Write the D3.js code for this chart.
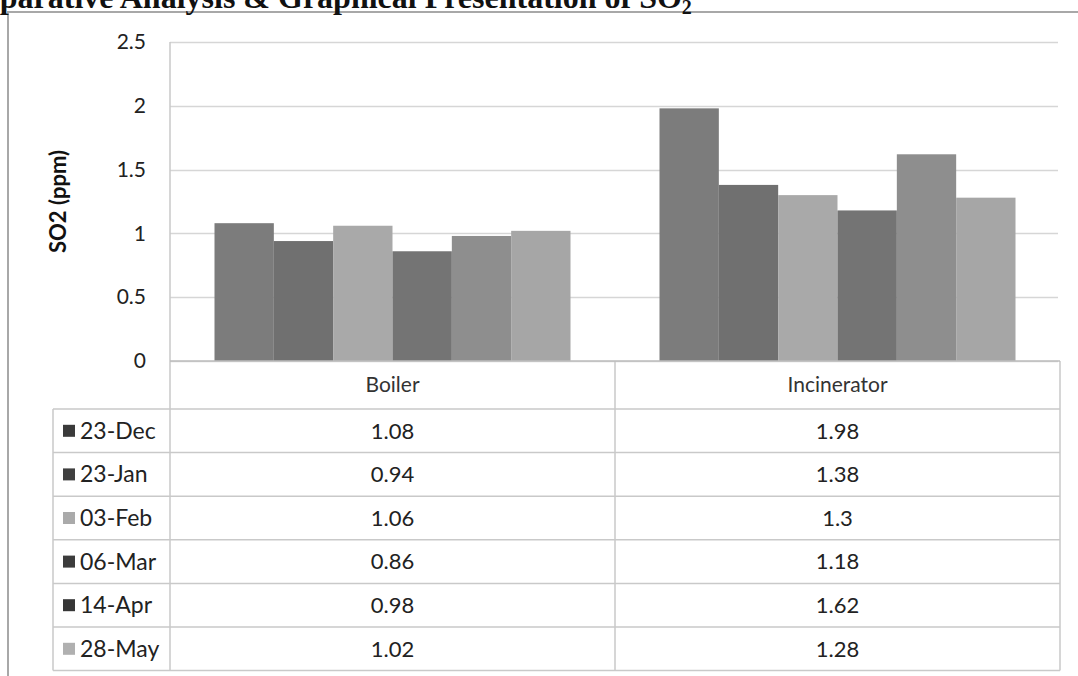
<!DOCTYPE html>
<html>
<head>
<meta charset="utf-8">
<script src="https://cdn.jsdelivr.net/npm/d3@7"></script>
<style>
  body { margin: 0; background: #fff; overflow: hidden; }
  svg { display: block; }
</style>
</head>
<body>
<svg id="chart"></svg>
<script>
var viewWidth = 1078;
var viewHeight = 676;

// data
var categories = ["Boiler", "Incinerator"];
var series = ["23-Dec", "23-Jan", "03-Feb", "06-Mar", "14-Apr", "28-May"];
var boilerValues = [1.08, 0.94, 1.06, 0.86, 0.98, 1.02];
var incineratorValues = [1.98, 1.38, 1.3, 1.18, 1.62, 1.28];
var yTicks = [0, 0.5, 1, 1.5, 2, 2.5];

var barColors = ["#7c7c7c", "#707070", "#a9a9a9", "#747474", "#8e8e8e", "#a6a6a6"];
var keyColors = ["#3a3a3a", "#3f3f3f", "#aaaaaa", "#3c3c3c", "#363636", "#b0b0b0"];

var valuesBySeries = series.map(function(s, i) {
  return { name: s, values: [boilerValues[i], incineratorValues[i]] };
});

var plot = {left: 170, right: 1060, top: 42, bottom: 361};
var headerH = 48;
var rowH = 43.6;
var legendLeft = 53;
var font = "Lato, 'Open Sans', sans-serif";

var svg = d3.select("#chart")
    .attr("width", viewWidth)
    .attr("height", viewHeight);

// outer frame (only top and left visible in the scan)
svg.append("path")
    .attr("d", "M8," + viewHeight + "V12H" + viewWidth)
    .attr("fill", "none")
    .attr("stroke", "#a8a8a8")
    .attr("stroke-width", 2);

// title, cut off at the top-left like the scan
var title = svg.append("text")
    .attr("x", -66)
    .attr("y", 8)
    .style("font-family", "'Liberation Serif', 'Times New Roman', serif")
    .style("font-weight", "bold")
    .style("font-size", "32px")
    .attr("fill", "#111");
title.append("tspan").text("Comparative Analysis & Graphical Presentation of SO");
title.append("tspan").attr("dy", 6).style("font-size", "20px").text("2");

var x0 = d3.scaleBand()
  .domain(categories)
  .range([plot.left, plot.right]);

var x1 = d3.scaleBand()
  .domain(series)
  .range([0, x0.bandwidth()])
  .paddingInner(0)
  .paddingOuter(0.75);

var y = d3.scaleLinear()
  .domain([0, 2.5])
  .range([plot.bottom, plot.top]);

// gridlines
svg.append("g")
    .attr("class", "grid")
  .selectAll("line")
  .data(yTicks)
  .enter().append("line")
    .attr("x1", plot.left)
    .attr("x2", plot.right - 2)
    .attr("y1", function(d) { return Math.round(y(d)) + 0.5; })
    .attr("y2", function(d) { return Math.round(y(d)) + 0.5; })
    .attr("stroke", "#d6d6d6")
    .attr("stroke-width", 1.5);

// y axis
var yAxis = d3.axisLeft(y)
  .tickValues(yTicks)
  .tickSize(0)
  .tickPadding(0)
  .tickFormat(function(d) { return String(d); });

var yg = svg.append("g")
    .attr("class", "y axis")
    .attr("transform", "translate(146,0)")
    .call(yAxis);
yg.attr("font-family", font).attr("font-size", 21);
yg.select(".domain").remove();
yg.selectAll("text").attr("fill", "#222");

svg.append("text")
    .attr("transform", "translate(58," + ((plot.top + plot.bottom) / 2) + ") rotate(-90)")
    .attr("text-anchor", "middle")
    .attr("dy", "0.35em")
    .style("font-family", font)
    .style("font-weight", "bold")
    .style("font-size", "22px")
    .attr("fill", "#111")
    .text("SO2 (ppm)");

// bars
var groups = svg.append("g")
  .selectAll("g")
  .data(valuesBySeries)
  .enter().append("g")
    .attr("fill", function(d, i) { return barColors[i]; });

groups.selectAll("rect")
  .data(function(d) {
    return d.values.map(function(v, j) { return {cat: categories[j], name: d.name, value: v}; });
  })
  .enter().append("rect")
    .attr("x", function(d) { return x0(d.cat) + x1(d.name); })
    .attr("y", function(d) { return y(d.value); })
    .attr("width", x1.bandwidth())
    .attr("height", function(d) { return y(0) - y(d.value); });

// data table under the plot
var tableTop = plot.bottom + headerH;
var tableBottom = tableTop + rowH * series.length;
var lineColor = "#c9c9c9";
var table = svg.append("g").attr("class", "table");

// vertical lines
var vLines = [
  {x: plot.left, y1: plot.top},
  {x: x0("Incinerator"), y1: plot.bottom},
  {x: plot.right, y1: plot.bottom},
  {x: legendLeft, y1: tableTop}
];
table.selectAll(".vline")
  .data(vLines)
  .enter().append("line")
    .attr("class", "vline")
    .attr("x1", function(d) { return d.x; })
    .attr("x2", function(d) { return d.x; })
    .attr("y1", function(d) { return d.y1; })
    .attr("y2", tableBottom)
    .attr("stroke", lineColor).attr("stroke-width", 1.5);

// horizontal lines
table.append("line")
    .attr("x1", plot.left).attr("x2", plot.right)
    .attr("y1", plot.bottom).attr("y2", plot.bottom)
    .attr("stroke", "#bdbdbd").attr("stroke-width", 1.5);
table.selectAll(".rowline")
  .data(d3.range(series.length + 1))
  .enter().append("line")
    .attr("class", "rowline")
    .attr("x1", legendLeft).attr("x2", plot.right)
    .attr("y1", function(i) { return tableTop + i * rowH; })
    .attr("y2", function(i) { return tableTop + i * rowH; })
    .attr("stroke", lineColor).attr("stroke-width", 1.5);

// category header
table.selectAll(".cat")
  .data(categories)
  .enter().append("text")
    .attr("class", "cat")
    .attr("x", function(d) { return x0(d) + x0.bandwidth() / 2; })
    .attr("y", plot.bottom + headerH / 2)
    .attr("dy", "0.35em")
    .attr("text-anchor", "middle")
    .style("font-family", font)
    .style("font-size", "21px")
    .attr("fill", "#333")
    .text(function(d) { return d; });

// rows
var rows = table.selectAll(".row")
  .data(valuesBySeries)
  .enter().append("g")
    .attr("class", "row")
    .attr("transform", function(d, i) { return "translate(0," + (tableTop + i * rowH + rowH / 2) + ")"; });

rows.append("rect")
    .attr("x", 63)
    .attr("y", -6)
    .attr("width", 12)
    .attr("height", 12)
    .attr("fill", function(d, i) { return keyColors[i]; });

rows.append("text")
    .attr("x", 80)
    .attr("dy", "0.35em")
    .style("font-family", font)
    .style("font-size", "23px")
    .attr("fill", "#222")
    .text(function(d) { return d.name; });

rows.selectAll(".val")
  .data(function(d) { return d.values.map(function(v, j) { return {cat: categories[j], value: v}; }); })
  .enter().append("text")
    .attr("class", "val")
    .attr("x", function(d) { return x0(d.cat) + x0.bandwidth() / 2; })
    .attr("dy", "0.35em")
    .attr("text-anchor", "middle")
    .style("font-family", font)
    .style("font-size", "22px")
    .attr("fill", "#222")
    .text(function(d) { return String(d.value); });
</script>
</body>
</html>
